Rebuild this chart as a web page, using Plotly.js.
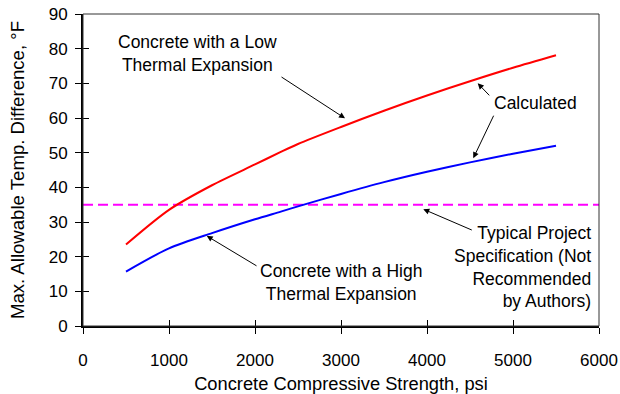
<!DOCTYPE html>
<html>
<head>
<meta charset="utf-8">
<script src="https://cdn.plot.ly/plotly-3.0.1.min.js"></script>
<style>html,body{margin:0;padding:0;background:#fff;}#chart{width:620px;height:394px;}</style>
</head>
<body>
<div id="chart"></div>
<script>
// Data
const strength = [500, 1000, 1500, 2000, 2300, 2500, 3000, 3500, 4000, 4500, 5000, 5500];
const lowExpansion = [23.5, 33.5, 40.6, 46.6, 50.2, 52.5, 57.4, 62.1, 66.5, 70.6, 74.5, 78.1];
const highExpansion = [15.7, 22.4, 26.8, 30.8, 33.0, 34.5, 38.1, 41.5, 44.5, 47.2, 49.7, 52.0];
const specX = [0, 6000];
const specY = [35, 35];
const xTicks = [0, 1000, 2000, 3000, 4000, 5000, 6000];
const yTicks = [0, 10, 20, 30, 40, 50, 60, 70, 80, 90];

const FONT = 'Liberation Sans, Arial, sans-serif';

const traces = [
  {x: specX, y: specY, mode: 'lines', line: {color: '#ff00ff', width: 2, dash: '10px,5px'}, hoverinfo: 'skip'},
  {x: strength, y: lowExpansion, mode: 'lines', line: {color: '#ff0000', width: 2, shape: 'spline', smoothing: 0.8}},
  {x: strength, y: highExpansion, mode: 'lines', line: {color: '#0000ff', width: 2, shape: 'spline', smoothing: 0.8}},
  {x: [0], y: [0], xaxis: 'x2', yaxis: 'y2', mode: 'markers', marker: {opacity: 0}, hoverinfo: 'skip'}
];

function arrow(tx, ty, hx, hy) {
  return {x: hx, y: hy, ax: tx, ay: ty, xref: 'x', yref: 'y', axref: 'x', ayref: 'y',
    text: '', showarrow: true, arrowhead: 2, arrowsize: 1.2, arrowwidth: 1, arrowcolor: '#000', standoff: 0, startstandoff: 0};
}
function label(x, y, text, xanchor, align) {
  return {x: x, y: y, xref: 'x', yref: 'y', text: text, showarrow: false,
    xanchor: xanchor || 'center', yanchor: 'middle', align: align || 'center',
    font: {family: FONT, size: 17.5, color: '#000'}};
}

const layout = {
  width: 620, height: 394,
  margin: {l: 83, r: 21, t: 14, b: 68},
  paper_bgcolor: '#fff', plot_bgcolor: '#fff',
  showlegend: false,
  font: {family: FONT, size: 17, color: '#000'},
  xaxis: {
    range: [0, 6000], tickvals: xTicks, ticktext: xTicks.map(String),
    ticks: 'outside', ticklen: 6, tickwidth: 1, tickcolor: '#000',
    showline: true, linewidth: 2, linecolor: '#000', showgrid: false, zeroline: false,
    ticklabelstandoff: 12,
    title: {text: 'Concrete Compressive Strength, psi', font: {size: 18.3}, standoff: 9}
  },
  yaxis: {
    range: [0, 90], tickvals: yTicks, ticktext: yTicks.map(String),
    ticks: 'outside', ticklen: 6, tickwidth: 1, tickcolor: '#000',
    showline: true, linewidth: 2, linecolor: '#000', showgrid: false, zeroline: false,
    ticklabelstandoff: 4,
    title: {text: 'Max. Allowable Temp. Difference, °F', font: {size: 18.6}, standoff: 19}
  },
  xaxis2: {overlaying: 'x', matches: 'x', range: [0, 6000], tickvals: xTicks, ticks: 'inside', ticklen: 6, tickcolor: '#000',
    showticklabels: false, showgrid: false, zeroline: false, showline: false},
  yaxis2: {overlaying: 'y', range: [0, 90], tickvals: yTicks, ticks: 'inside', ticklen: 6, tickcolor: '#000',
    showticklabels: false, showgrid: false, zeroline: false, showline: false},
  shapes: [
    {type: 'rect', xref: 'paper', yref: 'paper', x0: 0, x1: 1, y0: 0, y1: 1, line: {color: '#333', width: 1}, layer: 'above'}
  ],
  annotations: [
    label(1337, 78.5, 'Concrete with a Low<br>Thermal Expansion'),
    label(5265, 64.3, 'Calculated'),
    label(3000, 12.5, 'Concrete with a High<br>Thermal Expansion'),
    label(5927, 17.0, 'Typical Project<br>Specification (Not<br>Recommended<br>by Authors)', 'right', 'right'),
    arrow(2291, 72.1, 3047, 59.9),
    arrow(4741, 66.1, 4590, 70.0),
    arrow(4783, 61.1, 4538, 48.4),
    arrow(2035, 17.1, 1438, 26.0),
    arrow(4538, 27.5, 3957, 33.7)
  ]
};

Plotly.newPlot('chart', traces, layout, {staticPlot: true, displayModeBar: false});
</script>
</body>
</html>
